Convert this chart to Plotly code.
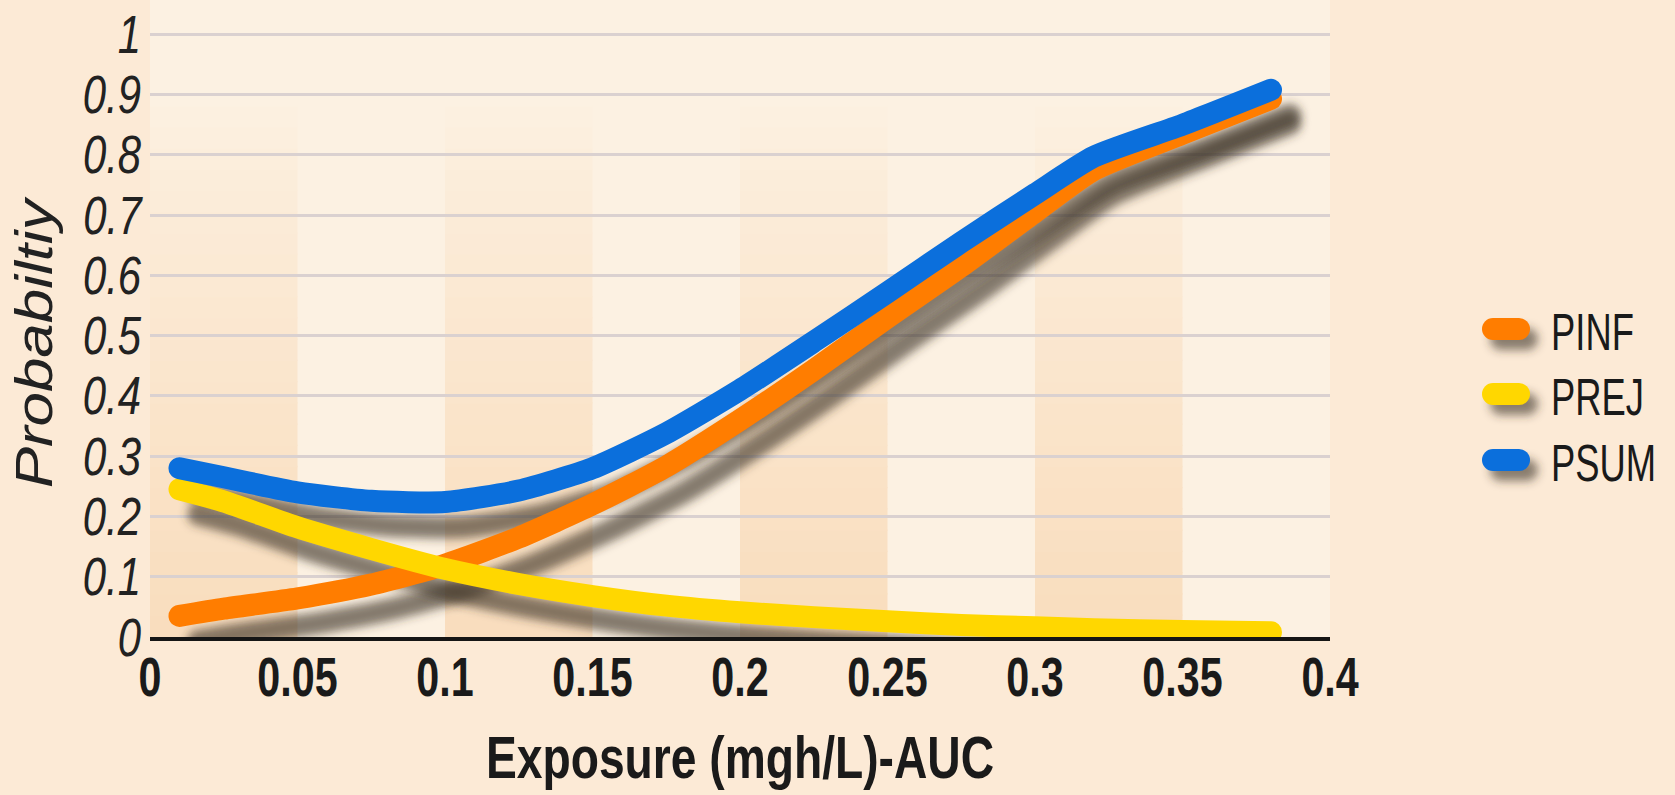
import json
import numpy as np
import plotly.graph_objects as go

# ---------------- data ----------------
exposure = [0.01, 0.025, 0.05, 0.075, 0.1, 0.125, 0.15, 0.175, 0.2, 0.225, 0.25, 0.275, 0.3, 0.32, 0.35, 0.38]
pinf = [0.035, 0.047, 0.064, 0.087, 0.12, 0.165, 0.22, 0.283, 0.36, 0.443, 0.53, 0.615, 0.705, 0.775, 0.835, 0.893]
prej = [0.245, 0.225, 0.182, 0.146, 0.113, 0.088, 0.068, 0.052, 0.041, 0.033, 0.026, 0.02, 0.016, 0.013, 0.01, 0.008]
psum = [0.28, 0.265, 0.24, 0.226, 0.224, 0.243, 0.28, 0.338, 0.41, 0.49, 0.572, 0.655, 0.735, 0.797, 0.85, 0.908]

series_names = ["PINF", "PREJ", "PSUM"]
series_colors = ["#FF7D00", "#FFD700", "#0B6FDC"]

x_ticks = [0, 0.05, 0.1, 0.15, 0.2, 0.25, 0.3, 0.35, 0.4]
x_ticktext = ["0", "0.05", "0.1", "0.15", "0.2", "0.25", "0.3", "0.35", "0.4"]
y_ticks = [0, 0.1, 0.2, 0.3, 0.4, 0.5, 0.6, 0.7, 0.8, 0.9, 1]
y_ticktext = ["0", "0.1", "0.2", "0.3", "0.4", "0.5", "0.6", "0.7", "0.8", "0.9", "1"]

# ---------------- style ----------------
W, H = 1675, 795
M_L, M_R, M_T, M_B = 150, 345, 0, 158
Y_MAX = 1.057
FONT = "Liberation Sans, Arial, sans-serif"
LINE_W = 22
LIGHT = (252, 241, 226)
DARK = (249, 221, 189)
plot_w = W - M_L - M_R
plot_h = H - M_T - M_B
DX = 19 * 0.4 / plot_w          # shadow offset (pixels -> data units)
DY = 25 * Y_MAX / plot_h

def px_x(p):  # pixel -> paper x
    return (p - M_L) / plot_w

def px_y(p):  # pixel -> paper y
    return (M_T + plot_h - p) / plot_h

fig = go.Figure()

# shadows of the curves
for ys in [pinf, prej, psum]:
    fig.add_trace(go.Scatter(
        x=np.array(exposure) + DX, y=np.array(ys) - DY, mode="lines",
        line=dict(color="rgba(60,50,40,0.62)", width=LINE_W, shape="spline", smoothing=0.6),
        showlegend=False, hoverinfo="skip"))

# curves
for name, ys, col in zip(series_names, [pinf, prej, psum], series_colors):
    fig.add_trace(go.Scatter(
        x=exposure, y=ys, mode="lines", name=name,
        line=dict(color=col, width=LINE_W, shape="spline", smoothing=0.6)))

# background bands with a vertical fade (darker towards the bottom)
shapes = []
N_SLICES = 30
for i in range(0, len(x_ticks) - 1, 2):
    for j in range(N_SLICES):
        y0, y1 = j / N_SLICES, (j + 1) / N_SLICES
        d = max(0.0, min(1.0, (0.85 - (y0 + y1) / 2) / 0.85)) ** 0.85
        c = tuple(int(round(LIGHT[m] + d * (DARK[m] - LIGHT[m]))) for m in range(3))
        shapes.append(dict(type="rect", layer="below", xref="x", yref="paper",
                           x0=x_ticks[i], x1=x_ticks[i + 1], y0=y0, y1=y1 + 0.002,
                           line=dict(width=0), fillcolor="rgb(%d,%d,%d)" % c))

# legend (drawn by hand so the thick rounded swatches fit)
leg_y = [329, 394, 460]
sw_x0, sw_x1, txt_x = 1493, 1519, 1551
shadow_idx, swatch_idx = [], []
for yc in leg_y:
    shadow_idx.append(len(shapes))
    shapes.append(dict(type="line", layer="above", xref="paper", yref="paper",
                       x0=px_x(sw_x0 + 8), x1=px_x(sw_x1 + 8), y0=px_y(yc + 10), y1=px_y(yc + 10),
                       line=dict(color="rgba(60,50,40,0.6)", width=LINE_W)))
for yc, col in zip(leg_y, series_colors):
    swatch_idx.append(len(shapes))
    shapes.append(dict(type="line", layer="above", xref="paper", yref="paper",
                       x0=px_x(sw_x0), x1=px_x(sw_x1), y0=px_y(yc), y1=px_y(yc),
                       line=dict(color=col, width=LINE_W)))

annotations = [dict(text="Probabiltiy", textangle=-90, xref="paper", yref="paper",
                    x=px_x(34), y=px_y(342), xanchor="center", yanchor="middle", showarrow=False,
                    font=dict(family=FONT, size=52, color="#222222", style="italic"))]
for yc, name in zip(leg_y, series_names):
    annotations.append(dict(text=name, xref="paper", yref="paper", x=px_x(txt_x - 2), y=px_y(yc + 3),
                            xanchor="left", yanchor="middle", showarrow=False,
                            font=dict(family=FONT, size=52, color="#1a1a1a")))

fig.update_layout(
    width=W, height=H,
    margin=dict(l=M_L, r=M_R, t=M_T, b=M_B),
    paper_bgcolor="#FCEAD6",
    plot_bgcolor="rgb(%d,%d,%d)" % LIGHT,
    shapes=shapes,
    annotations=annotations,
    showlegend=False,
    xaxis=dict(range=[0, 0.4], tickvals=x_ticks, ticktext=x_ticktext,
               showgrid=False, zeroline=False, showline=True, linecolor="#151515", linewidth=4,
               ticks="", ticklabelstandoff=-11,
               tickfont=dict(family=FONT, size=55, color="#1a1a1a", weight="bold"),
               title=dict(text="Exposure (mgh/L)-AUC", standoff=30,
                          font=dict(family=FONT, size=60, color="#1a1a1a", weight="bold"))),
    yaxis=dict(range=[0, Y_MAX], tickvals=y_ticks, ticktext=y_ticktext,
               showgrid=True, gridcolor="#DAD1D0", gridwidth=3, zeroline=False, showline=False,
               ticks="", ticklabelstandoff=8,
               tickfont=dict(family=FONT, size=53, color="#222222", style="italic")),
)

post = """
var gd = document.getElementById('{plot_id}');
var SH = %s, SW = %s;
function sq(el, s, mode){
  var cur = el.getAttribute('transform') || '';
  if (cur.indexOf('scale(') >= 0) return;
  var b = el.getBBox();
  var px = mode === 'start' ? b.x : (mode === 'end' ? b.x + b.width : b.x + b.width / 2);
  el.setAttribute('transform', cur + ' translate(' + px + ',0) scale(' + s + ',1) translate(' + (-px) + ',0)');
}
function fx(){
  var ns = 'http://www.w3.org/2000/svg';
  var svg = gd.querySelector('svg.main-svg');
  if (!document.getElementById('shblur')) {
    var defs = svg.querySelector('defs');
    if (!defs) { defs = document.createElementNS(ns, 'defs'); svg.insertBefore(defs, svg.firstChild); }
    var f = document.createElementNS(ns, 'filter');
    f.setAttribute('id', 'shblur'); f.setAttribute('filterUnits', 'userSpaceOnUse');
    f.setAttribute('x', '-500'); f.setAttribute('y', '-500'); f.setAttribute('width', '4000'); f.setAttribute('height', '3000');
    var b = document.createElementNS(ns, 'feGaussianBlur'); b.setAttribute('stdDeviation', '5');
    f.appendChild(b); defs.appendChild(f);
  }
  gd.querySelectorAll('.scatterlayer .trace').forEach(function(t, i){
    t.querySelectorAll('path.js-line').forEach(function(p){
      p.style.strokeLinecap = 'round'; p.style.strokeLinejoin = 'round';
      if (i < 3) p.setAttribute('filter', 'url(#shblur)');
    });
  });
  gd.querySelectorAll('.shapelayer path').forEach(function(p){
    var k = parseInt(p.getAttribute('data-index'));
    if (SH.indexOf(k) >= 0 || SW.indexOf(k) >= 0) p.style.strokeLinecap = 'round';
    if (SH.indexOf(k) >= 0) p.setAttribute('filter', 'url(#shblur)');
  });
  gd.querySelectorAll('.xtick text').forEach(function(t){ sq(t, 0.75, 'middle'); });
  gd.querySelectorAll('.ytick text').forEach(function(t){ sq(t, 0.79, 'end'); });
  gd.querySelectorAll('.g-xtitle text').forEach(function(t){ sq(t, 0.77, 'middle'); });
  gd.querySelectorAll('g.annotation').forEach(function(g){
    var k = parseInt(g.getAttribute('data-index'));
    var t = g.querySelector('text');
    if (!t) return;
    if (k === 0) sq(t, 1.19, 'middle'); else sq(t, 0.7, 'start');
  });
}
fx(); gd.on('plotly_afterplot', fx);
""" % (json.dumps(shadow_idx), json.dumps(swatch_idx))

fig.write_html("out.html", post_script=post)
